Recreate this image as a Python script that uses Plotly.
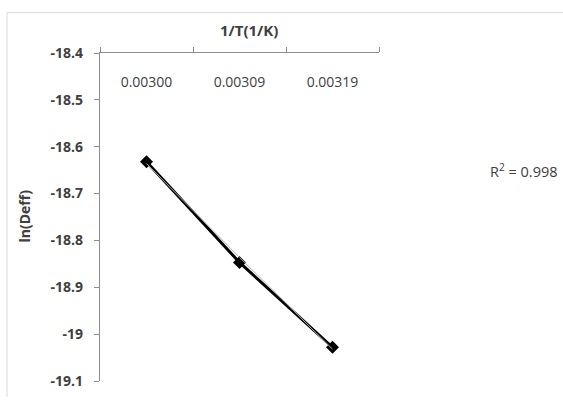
import plotly.graph_objects as go

# Data
categories = ["0.00300", "0.00309", "0.00319"]
ln_deff = [-18.632, -18.847, -19.028]
trend_values = [-18.636, -18.836, -19.032]
y_tickvals = [-18.4, -18.5, -18.6, -18.7, -18.8, -18.9, -19.0, -19.1]
y_ticktext = ["-18.4", "-18.5", "-18.6", "-18.7", "-18.8", "-18.9", "-19", "-19.1"]
r2_text = "R<sup>2</sup> = 0.998"
x_title = "1/T(1/K)"
y_title = "ln(Deff)"

W, H = 563, 402
L, R, T, B = 100, 184, 53, 16
pw, ph = W - L - R, H - T - B

def px_x(x):
    return (x - L) / pw

def px_y(y):
    return (H - B - y) / ph

fig = go.Figure()
fig.add_trace(go.Scatter(
    x=categories, y=trend_values, mode="lines", xaxis="x2", yaxis="y",
    line=dict(color="#b0b0b0", width=1), showlegend=False, hoverinfo="skip"))
fig.add_trace(go.Scatter(
    x=categories, y=ln_deff, mode="lines+markers",
    line=dict(color="#000000", width=3),
    marker=dict(symbol="diamond", size=10, color="#000000"),
    showlegend=False))

fig.update_layout(
    width=W, height=H,
    margin=dict(l=L, r=R, t=T, b=B),
    paper_bgcolor="white", plot_bgcolor="white",
    font=dict(family="Open Sans", color="#404040"),
    xaxis=dict(
        type="category", side="top", showgrid=False, zeroline=False,
        showline=True, linecolor="#8c8c8c", linewidth=1.3,
        ticks="outside", ticklen=5, tickcolor="#8c8c8c", tickson="boundaries",
        showticklabels=False,
        range=[-0.5, 2.5], fixedrange=True),
    xaxis2=dict(
        type="category", overlaying="x", anchor="free", position=px_y(72),
        side="bottom", showgrid=False, zeroline=False, showline=False,
        ticks="", tickfont=dict(size=14, color="#404040"),
        range=[-0.5, 2.5], fixedrange=True),
    yaxis=dict(
        range=[-19.1, -18.4], tickvals=y_tickvals, ticktext=y_ticktext,
        showgrid=False, zeroline=False,
        showline=True, linecolor="#8c8c8c", linewidth=1.3,
        ticks="outside", ticklen=5, tickcolor="#8c8c8c",
        ticklabelstandoff=8,
        tickfont=dict(size=14, color="#404040", weight="bold")),
    shapes=[
        dict(type="line", xref="paper", yref="paper",
             x0=px_x(7), x1=px_x(563), y0=px_y(12), y1=px_y(12),
             line=dict(color="#d9d9d9", width=1), layer="above"),
        dict(type="line", xref="paper", yref="paper",
             x0=px_x(7), x1=px_x(7), y0=px_y(402), y1=px_y(12),
             line=dict(color="#d9d9d9", width=1), layer="above"),
    ],
    annotations=[
        dict(text=x_title, xref="paper", yref="paper", x=px_x(249), y=px_y(30),
             xanchor="center", yanchor="middle",
             showarrow=False, font=dict(size=15, color="#404040", weight="bold")),
        dict(text=y_title, xref="paper", yref="paper", x=px_x(25), y=px_y(219),
             xanchor="center", yanchor="middle",
             showarrow=False, textangle=-90,
             font=dict(size=14, color="#404040", weight="bold")),
        dict(text=r2_text, xref="paper", yref="paper", x=px_x(488), y=px_y(172),
             xanchor="left", yanchor="middle", showarrow=False,
             font=dict(size=14.5, color="#404040")),
    ],
)

fig.write_html("out.html", config={"displayModeBar": False},
               post_script="document.body.style.margin='0px';document.body.style.overflow='hidden';")
